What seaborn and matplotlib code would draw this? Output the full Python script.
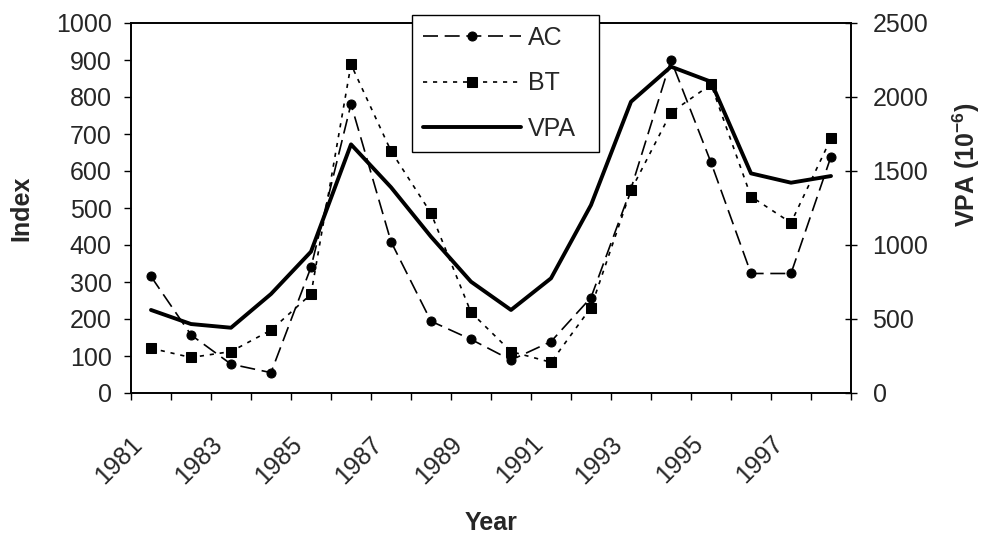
import numpy as np
import pandas as pd
import matplotlib
matplotlib.use("Agg")
import matplotlib.pyplot as plt
import matplotlib.transforms as mtransforms
import seaborn as sns

# Values
years = list(range(1981, 1999))
ac = [315, 157, 78, 55, 340, 781, 409, 194, 145, 89, 139, 258, 552, 900, 623, 323, 323, 639]
bt = [121, 96, 112, 170, 267, 888, 654, 486, 218, 112, 83, 231, 548, 758, 834, 531, 460, 688]
vpa = [561, 466, 441, 669, 955, 1680, 1390, 1056, 752, 561, 775, 1270, 1968, 2205, 2103, 1484, 1421, 1466]
year_labels = [str(y) for y in range(1981, 1998, 2)]

df = pd.DataFrame({'Year': years, 'AC': ac, 'BT': bt, 'VPA': vpa})

sns.set_style('ticks')
plt.rcParams['font.family'] = ['Liberation Sans', 'DejaVu Sans']
plt.rcParams['mathtext.fontset'] = 'custom'
plt.rcParams['mathtext.rm'] = 'Liberation Sans:bold'
plt.rcParams['mathtext.bf'] = 'Liberation Sans:bold'

fig = plt.figure(figsize=(9.82, 5.39), dpi=100)
ax = fig.add_axes([131 / 982, 1 - 393 / 539, 720 / 982, 370 / 539])
ax2 = ax.twinx()

# Index series on the left axis
sns.lineplot(data=df, x='Year', y='AC', ax=ax, color='black', linewidth=1.2,
             marker='o', markersize=6.5, markeredgecolor='black',
             label='AC', legend=False)
ax.lines[-1].set_dashes([9, 4])
sns.lineplot(data=df, x='Year', y='BT', ax=ax, color='black', linewidth=1.2,
             marker='s', markersize=6.5, markeredgecolor='black',
             label='BT', legend=False)
ax.lines[-1].set_dashes([2.5, 3.5])

# VPA on the right axis
sns.lineplot(data=df, x='Year', y='VPA', ax=ax2, color='black', linewidth=2.8,
             label='VPA', legend=False)

ax.set_xlim(1980.5, 1998.5)
ax.set_ylim(0, 1000)
ax.set_yticks(np.arange(0, 1001, 100))
ax2.set_ylim(0, 2500)
ax2.set_yticks(np.arange(0, 2501, 500))

ax.set_xticks(range(1981, 1998, 2))
ax.set_xticklabels(year_labels)
ax.set_xticks(np.arange(1980.5, 1999, 1), minor=True)
ax.tick_params(axis='x', which='major', length=0, pad=34, labelsize=18)
ax.tick_params(axis='x', which='minor', length=5, width=1, direction='out', color='black')
ax.tick_params(axis='y', which='major', length=5, width=1, direction='out', pad=9, labelsize=18, color='black')
ax2.tick_params(axis='y', which='major', length=9, width=1, direction='inout', pad=11, labelsize=18, color='black')

shift = mtransforms.ScaledTranslation(-12 / 100, 0, fig.dpi_scale_trans)
for lbl in ax.get_xticklabels():
    lbl.set_rotation(45)
    lbl.set_ha('right')
    lbl.set_va('center')
    lbl.set_rotation_mode('anchor')
    lbl.set_transform(lbl.get_transform() + shift)

for a in (ax, ax2):
    for s in a.spines.values():
        s.set_color('black')
        s.set_linewidth(1.2)

ax.set_xlabel('Year', fontsize=18, fontweight='bold')
ax.xaxis.set_label_coords(0.5, -0.318)
ax.set_ylabel('Index', fontsize=18, fontweight='bold')
ax.yaxis.set_label_coords(-0.136, 0.5)
ax2.set_ylabel(r'VPA (10$^{-6}$)', fontsize=18, fontweight='bold')
ax2.yaxis.set_label_coords(1.138, 0.616)

handles = ax.lines[:2] + ax2.lines[:1]
leg = ax2.legend(handles, ['AC', 'BT', 'VPA'], loc='upper left',
                 bbox_to_anchor=(412 / 982, 1 - 158 / 539, 187 / 982, 143 / 539),
                 bbox_transform=fig.transFigure, mode='expand',
                 frameon=True, fancybox=False, shadow=False, fontsize=18,
                 handlelength=3.9, labelspacing=0.86, borderpad=0.44,
                 handletextpad=0.28, borderaxespad=0)
leg.get_frame().set_edgecolor('black')
leg.get_frame().set_linewidth(1)
leg.get_frame().set_alpha(1)

fig.savefig('out.png', dpi=100)
